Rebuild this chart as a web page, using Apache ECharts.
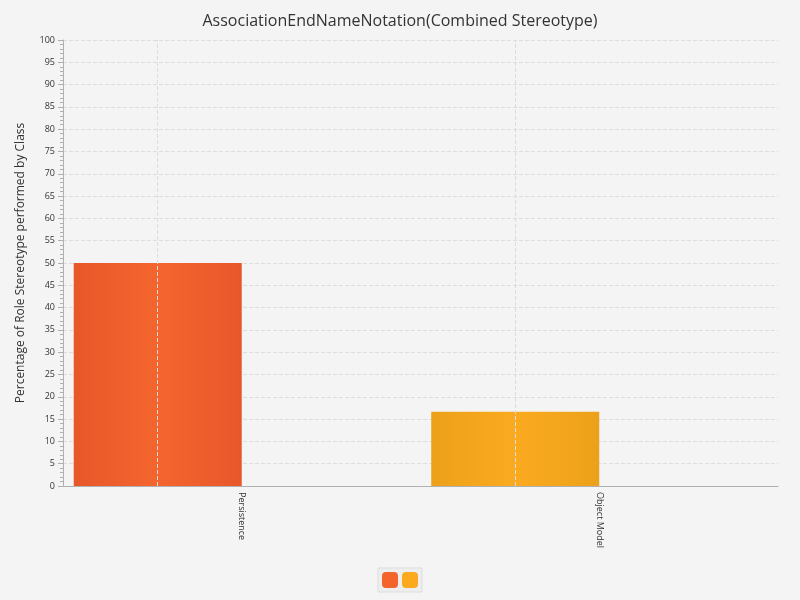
<!DOCTYPE html>
<html>
<head>
<meta charset="utf-8">
<script src="https://cdn.jsdelivr.net/npm/echarts@6/dist/echarts.min.js"></script>
<style>html,body{margin:0;padding:0;background:#f4f4f4}#c{width:800px;height:600px}</style>
</head>
<body>
<div id="c"></div>
<script>
const categories = ['Persistence', 'Object Model'];
const values = [50, 16.67];
const emptySeries = [0, 0];
const colors = [['#e8572a', '#f4652e'], ['#eca11a', '#fbaa20']];

function grad(c) {
  return new echarts.graphic.LinearGradient(0, 0, 1, 0, [
    { offset: 0, color: c[0] }, { offset: 0.5, color: c[1] }, { offset: 1, color: c[0] }
  ]);
}

const chart = echarts.init(document.getElementById('c'));
chart.setOption({
  backgroundColor: '#f4f4f4',
  animation: false,
  textStyle: { fontFamily: 'Open Sans, sans-serif' },
  title: { text: 'AssociationEndNameNotation(Combined Stereotype)', left: 'center', top: 8,
    textStyle: { fontSize: 16, fontWeight: 'normal', color: '#333' } },
  legend: { bottom: 8, itemWidth: 16, itemHeight: 16, itemGap: 4, formatter: () => '',
    data: [{ name: 's1', itemStyle: { color: colors[0][1] } }, { name: 's2', itemStyle: { color: colors[1][1] } }],
    backgroundColor: '#eeeeee', borderColor: '#ddd', borderWidth: 1, padding: 4 },
  grid: { left: 63, right: 22, top: 40, bottom: 114 },
  xAxis: { type: 'category', data: categories,
    axisLine: { lineStyle: { color: '#b0b0b0' } },
    axisTick: { alignWithLabel: true, lineStyle: { color: '#b0b0b0' } },
    axisLabel: { rotate: -90, fontSize: 9, color: '#333', margin: 6 },
    splitLine: { show: false } },
  yAxis: { type: 'value', min: 0, max: 100, interval: 5,
    name: 'Percentage of Role Stereotype performed by Class', nameLocation: 'middle', nameGap: 36,
    nameTextStyle: { fontSize: 12, color: '#333' },
    axisLine: { show: true, lineStyle: { color: '#b0b0b0' } },
    axisTick: { show: true, lineStyle: { color: '#b0b0b0' } },
    minorTick: { show: true, splitNumber: 5, length: 3, lineStyle: { color: '#b0b0b0' } },
    axisLabel: { fontSize: 9, color: '#333' },
    splitLine: { lineStyle: { color: '#dddddd', type: 'dashed' } } },
  series: [
    { name: 's1', type: 'bar', data: values.map((v, i) => ({ value: v, itemStyle: { color: grad(colors[i]) } })),
      barCategoryGap: '6%', barGap: '0%',
      markLine: { silent: true, symbol: 'none', label: { show: false },
        lineStyle: { color: '#dddddd', type: 'dashed', width: 1 },
        data: categories.map(c => ({ xAxis: c })) } },
    { name: 's2', type: 'bar', data: emptySeries, itemStyle: { color: colors[1][1] } }
  ]
});
</script>
</body>
</html>
